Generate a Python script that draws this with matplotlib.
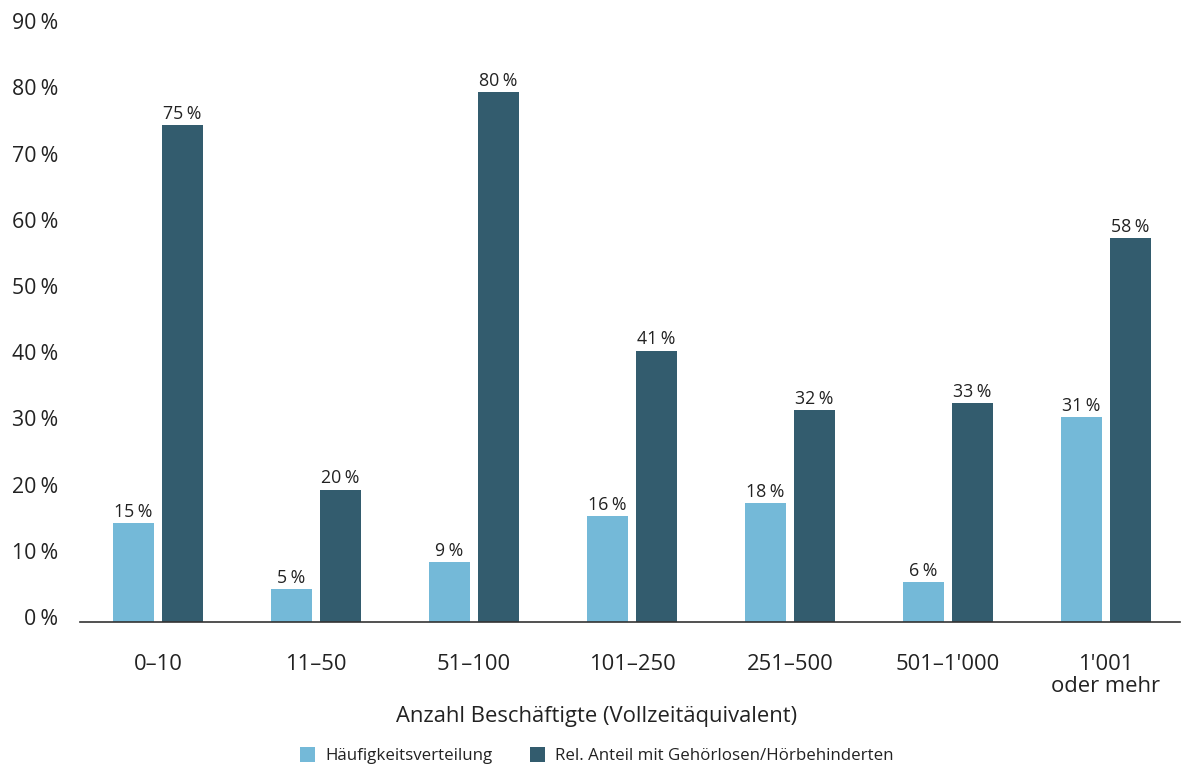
import numpy as np
import matplotlib.pyplot as plt
import matplotlib.transforms as mtransforms

categories = ["0–10", "11–50", "51–100", "101–250", "251–500", "501–1'000", "1'001\noder mehr"]
haeufigkeit = [15, 5, 9, 16, 18, 6, 31]
anteil = [75, 20, 80, 41, 32, 33, 58]
series_names = ["Häufigkeitsverteilung", "Rel. Anteil mit Gehörlosen/Hörbehinderten"]
yticks = list(range(0, 100, 10))

light = "#74b9d8"
dark = "#335c6e"
txt = "#222222"

plt.rcParams['font.family'] = ['Open Sans', 'DejaVu Sans']

fig = plt.figure(figsize=(11.82, 7.69), dpi=100)
ax = fig.add_axes([0.0677, 0.1912, 0.9307, 0.7748])

x = np.arange(len(categories))
w = 0.26
off = 0.155
b1 = ax.bar(x - off, haeufigkeit, w, color=light, label=series_names[0])
b2 = ax.bar(x + off, anteil, w, color=dark, label=series_names[1])

for bars, vals in ((b1, haeufigkeit), (b2, anteil)):
    for r, v in zip(bars, vals):
        ax.annotate(f"{v}\u202f%", (r.get_x() + r.get_width() / 2, r.get_height()),
                    xytext=(0, 1.5), textcoords="offset points",
                    ha="center", va="bottom", fontsize=12.8, color=txt)

ax.set_xlim(-0.494, 6.47)
ax.set_ylim(0, 90)
ax.set_yticks(yticks)
ax.set_yticklabels([f"{t}\u202f%" for t in yticks], fontsize=15.3, color=txt)
ax.set_xticks(x)
ax.set_xticklabels(categories, fontsize=15.8, color=txt, linespacing=1.05)
ax.tick_params(axis="y", length=0, pad=16)
ax.tick_params(axis="x", length=0, pad=23)

# tick labels sit slightly above their values in the original
shift = mtransforms.ScaledTranslation(0, 5 / 100, fig.dpi_scale_trans)
for lab in ax.get_yticklabels():
    lab.set_transform(lab.get_transform() + shift)

for s in ["top", "right", "left"]:
    ax.spines[s].set_visible(False)
ax.spines["bottom"].set_color("#333333")
ax.spines["bottom"].set_linewidth(1.2)

fig.text(0.505, 0.068, "Anzahl Beschäftigte (Vollzeitäquivalent)", ha="center", va="center",
         fontsize=15.8, color=txt)
fig.legend(loc="center", bbox_to_anchor=(0.505, 0.017), ncol=2, frameon=False,
           fontsize=12.2, handlelength=0.9, handleheight=0.9, columnspacing=2.2,
           handletextpad=0.6, labelcolor=txt)

fig.savefig("out.png", dpi=100)
